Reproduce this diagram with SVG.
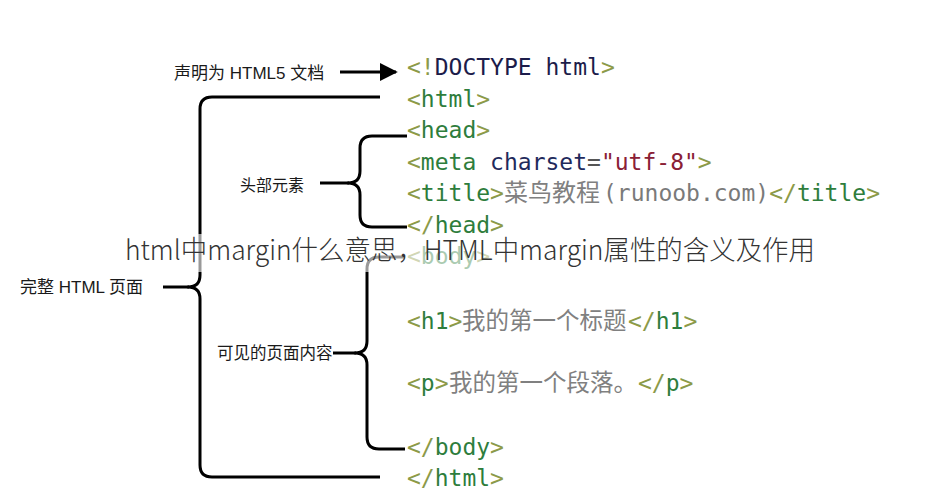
<svg xmlns="http://www.w3.org/2000/svg" width="947" height="490" viewBox="0 0 947 490">
<style>
.lbl{font-family:"Liberation Sans","Noto Sans CJK SC",sans-serif;font-size:17px;fill:#1a1a1a}
.code{font-family:"DejaVu Sans Mono","Liberation Mono",monospace;font-size:23px}
.cjk{font-family:"Noto Sans CJK SC",sans-serif;fill:#808080;font-size:23.5px}
.br{fill:#8c9a48}
.tg{fill:#2e7d3c}
.kw{fill:#1c1c4a}
.at{fill:#1f2a5c}
.eq{fill:#555}
.st{fill:#8a2035}
.tx{fill:#7a7a7a}
.line{fill:none;stroke:#000;stroke-width:3;stroke-linecap:butt;stroke-linejoin:round}
.title{font-family:"Noto Sans CJK SC","Noto Sans",sans-serif;font-size:27px;font-weight:300;fill:#333}
</style>
<defs>
<marker id="ah" viewBox="0 0 10 10" refX="9" refY="5" markerWidth="6" markerHeight="6" markerUnits="strokeWidth" orient="auto">
<path d="M0,0 L10,5 L0,10 z" fill="#000"/>
</marker>
</defs>
<rect x="0" y="0" width="947" height="490" fill="#fff"/>

<g id="connectors">
<line class="line" x1="340" y1="72" x2="396" y2="72" marker-end="url(#ah)"/>
<path class="line" d="M380 97 H212 Q200 97 200 109 V275 Q200 287 188 287 Q200 287 200 299 V465 Q200 477 212 477 H380"/>
<path class="line" d="M163 287 H189"/>
<path class="line" d="M407 136 H372 Q360 136 360 148 V171 Q360 183 348 183 Q360 183 360 195 V215 Q360 227 372 227 H407"/>
<path class="line" d="M320 183 H349"/>
<path class="line" d="M405 257 H379 Q367 257 367 269 V341 Q367 353 355 353 Q367 353 367 365 V437 Q367 449 379 449 H405"/>
<path class="line" d="M333 353 H356"/>
</g>

<g id="label-doctype"><text class="lbl" x="174" y="78.5">声明为 HTML5 文档</text></g>
<g id="label-head"><text class="lbl" x="240" y="190.5" style="font-size:16px">头部元素</text></g>
<g id="label-page"><text class="lbl" x="20" y="293">完整 HTML 页面</text></g>
<g id="label-body"><text class="lbl" x="217" y="359" style="font-size:16.5px">可见的页面内容</text></g>

<g id="code">
<text class="code" x="407" y="75"><tspan class="br">&lt;!</tspan><tspan class="kw">DOCTYPE html</tspan><tspan class="br">&gt;</tspan></text>
<text class="code" x="407" y="106.5"><tspan class="br">&lt;</tspan><tspan class="tg">html</tspan><tspan class="br">&gt;</tspan></text>
<text class="code" x="407" y="138"><tspan class="br">&lt;</tspan><tspan class="tg">head</tspan><tspan class="br">&gt;</tspan></text>
<text class="code" x="407" y="169.5"><tspan class="br">&lt;</tspan><tspan class="tg">meta</tspan><tspan class="at"> charset</tspan><tspan class="eq">=</tspan><tspan class="st">"utf-8"</tspan><tspan class="br">&gt;</tspan></text>
<text class="code" x="407" y="201"><tspan class="br">&lt;</tspan><tspan class="tg">title</tspan><tspan class="br">&gt;</tspan><tspan class="cjk" style="font-size:24px">菜鸟教程</tspan><tspan class="tx" x="603">(runoob.com)</tspan><tspan class="br">&lt;/</tspan><tspan class="tg">title</tspan><tspan class="br">&gt;</tspan></text>
<text class="code" x="407" y="232.5"><tspan class="br">&lt;/</tspan><tspan class="tg">head</tspan><tspan class="br">&gt;</tspan></text>
<text class="code" x="407" y="264"><tspan class="br">&lt;</tspan><tspan class="tg">body</tspan><tspan class="br">&gt;</tspan></text>
<text class="code" x="407" y="329"><tspan class="br">&lt;</tspan><tspan class="tg">h1</tspan><tspan class="br">&gt;</tspan><tspan class="cjk" x="462">我的第一个标题</tspan><tspan class="br" x="628">&lt;/</tspan><tspan class="tg">h1</tspan><tspan class="br">&gt;</tspan></text>
<text class="code" x="407" y="391"><tspan class="br">&lt;</tspan><tspan class="tg">p</tspan><tspan class="br">&gt;</tspan><tspan class="cjk" x="449">我的第一个段落。</tspan><tspan class="br" x="638">&lt;/</tspan><tspan class="tg">p</tspan><tspan class="br">&gt;</tspan></text>
<text class="code" x="407" y="455"><tspan class="br">&lt;/</tspan><tspan class="tg">body</tspan><tspan class="br">&gt;</tspan></text>
<text class="code" x="407" y="486"><tspan class="br">&lt;/</tspan><tspan class="tg">html</tspan><tspan class="br">&gt;</tspan></text>
</g>

<g id="title-overlay">
<rect x="110" y="234" width="720" height="38" fill="#fff" fill-opacity="0.6"/>
<text class="title" x="125" y="260" textLength="690" lengthAdjust="spacingAndGlyphs">html中margin什么意思，HTML中margin属性的含义及作用</text>
</g>
</svg>
